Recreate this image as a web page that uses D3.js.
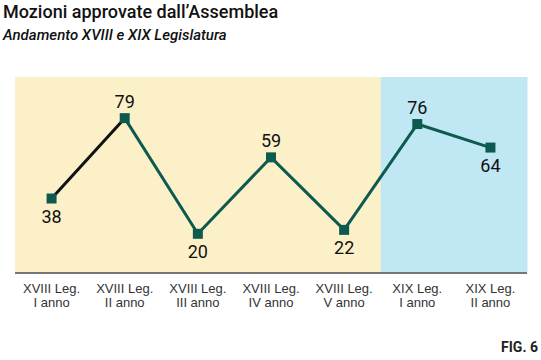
<!DOCTYPE html>
<html><head><meta charset="utf-8">
<script src="https://cdn.jsdelivr.net/npm/d3@7"></script>
<style>body{margin:0;background:#fff;}svg{display:block;font-family:Roboto,"Noto Sans",sans-serif;}</style>
</head><body>
<svg id="c" width="541" height="360"></svg>
<script>
const categories = ["XVIII Leg.|I anno","XVIII Leg.|II anno","XVIII Leg.|III anno","XVIII Leg.|IV anno","XVIII Leg.|V anno","XIX Leg.|I anno","XIX Leg.|II anno"];
const values = [38, 79, 20, 59, 22, 76, 64];
const labelPos = ["below","above","below","above","below","above","below"];
const legislature = ["XVIII","XVIII","XVIII","XVIII","XVIII","XIX","XIX"];

const svg = d3.select("#c");
const x = d3.scaleBand().domain(categories).range([15, 527]);
const y = d3.scaleLinear().domain([0, 100]).range([273, 77]);
const bg = {XVIII:"#fcf0c9", XIX:"#bfe8f4"};

categories.forEach((c,i)=>{
  svg.append("rect").attr("x", x(c)).attr("y", y(100)).attr("width", x.bandwidth()+0.5)
    .attr("height", y(0)-y(100)).attr("fill", bg[legislature[i]]);
});

svg.append("line").attr("x1",15).attr("x2",527).attr("y1",y(0)).attr("y2",y(0))
  .attr("stroke","#777").attr("stroke-width",2);

const xAxis = svg.append("g").attr("transform",`translate(0,${y(0)})`)
  .call(d3.axisBottom(x).tickSize(0).tickFormat(""));
xAxis.select(".domain").remove();
xAxis.selectAll(".tick").each(function(d){
  const parts = d.split("|");
  const t = d3.select(this).append("text").attr("text-anchor","middle").attr("fill","#333")
    .attr("font-size","13px");
  parts.forEach((p,j)=>t.append("tspan").attr("x",0).attr("y",20+j*14).text(p));
});

const cx = c => x(c) + x.bandwidth()/2;
const pts = categories.map((c,i)=>[cx(c), y(values[i])]);
for(let i=0;i<pts.length-1;i++){
  svg.append("line").attr("x1",pts[i][0]).attr("y1",pts[i][1]).attr("x2",pts[i+1][0]).attr("y2",pts[i+1][1])
    .attr("stroke", i===0 ? "#111" : "#0e5a4f").attr("stroke-width",3).attr("stroke-linecap","round");
}
svg.selectAll("rect.m").data(pts).enter().append("rect").attr("class","m")
  .attr("x",d=>d[0]-5).attr("y",d=>d[1]-5).attr("width",10).attr("height",10).attr("fill","#0e5a4f");
svg.selectAll("text.v").data(values).enter().append("text").attr("class","v")
  .attr("x",(d,i)=>pts[i][0]).attr("y",(d,i)=>labelPos[i]==="above" ? pts[i][1]-10 : pts[i][1]+24)
  .attr("text-anchor","middle").attr("font-size","18px").attr("fill","#111").text(d=>d);

svg.append("text").attr("x",3).attr("y",18).attr("font-size","18px").attr("font-weight","500").attr("fill","#111")
  .text("Mozioni approvate dall’Assemblea");
svg.append("text").attr("x",3).attr("y",40).attr("font-size","15px").attr("font-weight","500").attr("font-style","italic").attr("fill","#111")
  .text("Andamento XVIII e XIX Legislatura");
svg.append("text").attr("x",538).attr("y",352).attr("text-anchor","end").attr("font-size","14px").attr("font-weight","bold").attr("fill","#222")
  .text("FIG. 6");
</script>
</body></html>
